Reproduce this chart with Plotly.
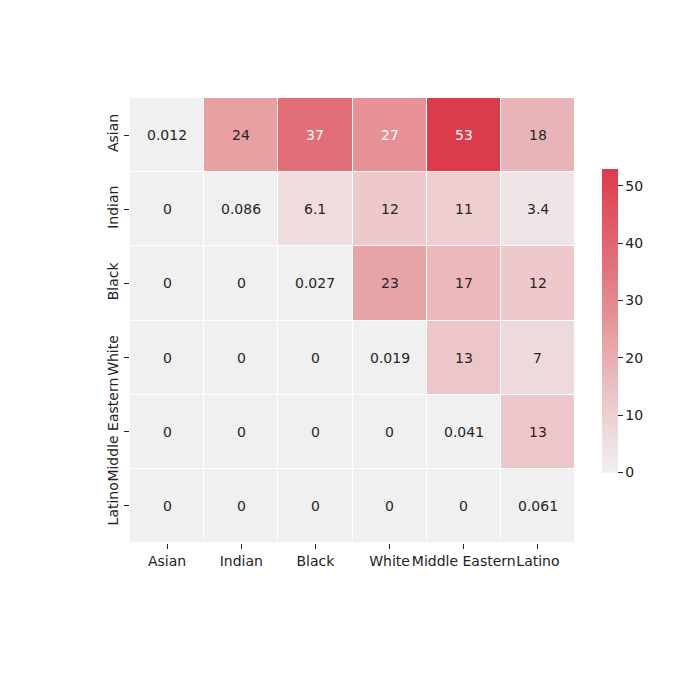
import plotly.graph_objects as go

# --- dados do heatmap ---
groups = ["Asian", "Indian", "Black", "White", "Middle Eastern", "Latino"]
row_asian = [0.012, 24, 37, 27, 53, 18]
row_indian = [0, 0.086, 6.1, 12, 11, 3.4]
row_black = [0, 0, 0.027, 23, 17, 12]
row_white = [0, 0, 0, 0.019, 13, 7]
row_middle_eastern = [0, 0, 0, 0, 0.041, 13]
row_latino = [0, 0, 0, 0, 0, 0.061]
values = [row_asian, row_indian, row_black, row_white, row_middle_eastern, row_latino]
cbar_ticks = [0, 10, 20, 30, 40, 50]

# escala de cor (metade vermelha de uma paleta divergente)
colorscale = [
    [0.0, "#f1f0f0"],
    [0.12, "#efdcdd"],
    [0.25, "#ecc5c8"],
    [0.34, "#e9b4b7"],
    [0.45, "#e7a0a3"],
    [0.51, "#e69196"],
    [0.70, "#e06f7a"],
    [1.0, "#dc3c4a"],
]

zmax = max(max(r) for r in values)
font = dict(family="DejaVu Sans", size=14, color="#222")

fig = go.Figure()
fig.add_trace(go.Heatmap(
    z=values, x=groups, y=groups,
    colorscale=colorscale, zmin=0, zmax=zmax,
    xgap=1, ygap=1, hoverongaps=False,
    colorbar=dict(
        thickness=16, len=0.683, lenmode="fraction", y=0.5, yanchor="middle",
        x=1.061, xanchor="left", xpad=0, ypad=0, outlinewidth=0,
        tickvals=cbar_ticks, ticks="outside", ticklen=5, tickcolor="#222",
        tickfont=font,
    ),
))

# anotações com os valores (formato .2g como no seaborn)
annotations = []
for i, row in enumerate(values):
    for j, v in enumerate(row):
        annotations.append(dict(
            x=groups[j], y=groups[i], text=format(v, ".2g"), showarrow=False,
            font=dict(family="DejaVu Sans", size=14,
                      color="white" if v > 25 else "#262626"),
        ))

fig.update_layout(
    width=700, height=700,
    margin=dict(l=122, r=133, t=90, b=165, autoexpand=False),
    paper_bgcolor="white", plot_bgcolor="white",
    annotations=annotations,
    xaxis=dict(showgrid=False, zeroline=False, ticks="outside", ticklen=5,
               tickcolor="#222", tickangle=0, automargin=False, tickfont=font),
    yaxis=dict(showgrid=False, zeroline=False, autorange="reversed", ticks="outside",
               ticklen=5, tickcolor="#222", tickangle=-90, automargin=False,
               tickfont=font),
)

fig.write_html("out.html")
